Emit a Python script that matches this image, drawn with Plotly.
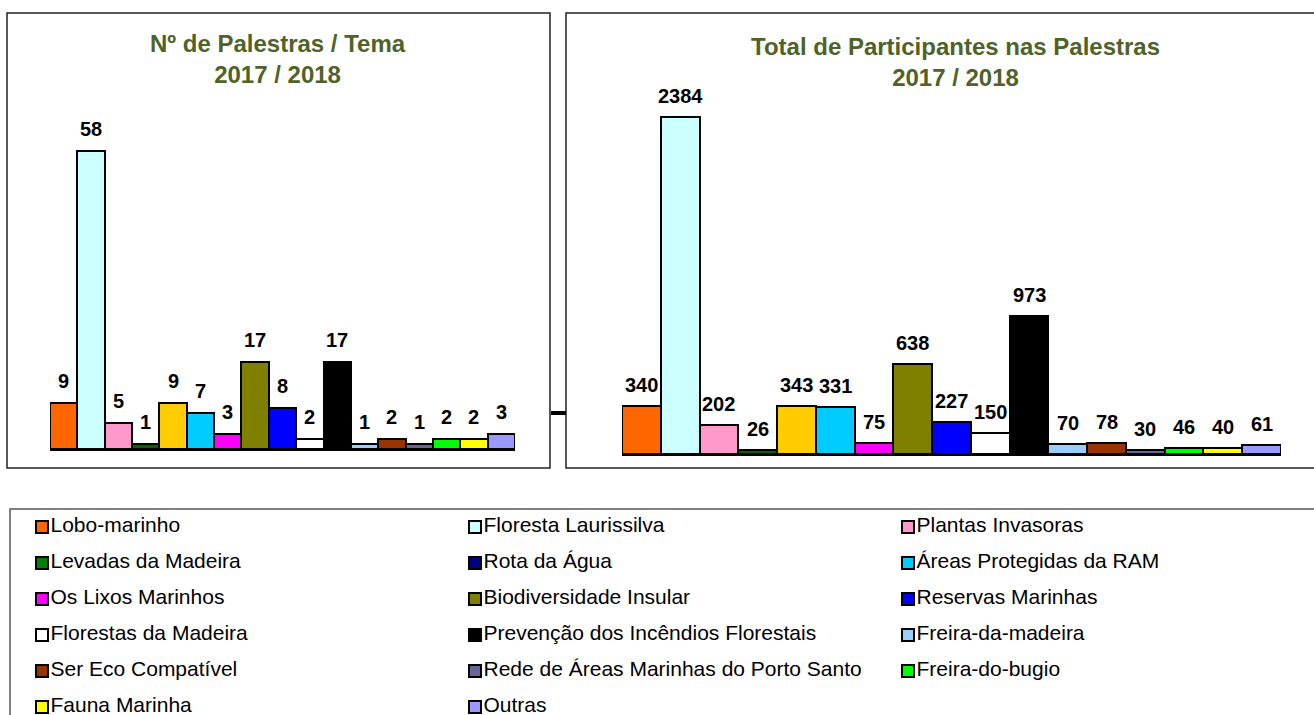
import plotly.graph_objects as go

# ---------------- data ----------------
categories = [
    "Lobo-marinho", "Floresta Laurissilva", "Plantas Invasoras", "Levadas da Madeira",
    "Rota da Água", "Áreas Protegidas da RAM", "Os Lixos Marinhos", "Biodiversidade Insular",
    "Reservas Marinhas", "Florestas da Madeira", "Prevenção dos Incêndios Florestais",
    "Freira-da-madeira", "Ser Eco Compatível", "Rede de Áreas Marinhas do Porto Santo",
    "Freira-do-bugio", "Fauna Marinha", "Outras",
]
palestras = [9, 58, 5, 1, 9, 7, 3, 17, 8, 2, 17, 1, 2, 1, 2, 2, 3]
participantes = [340, 2384, 202, 26, 343, 331, 75, 638, 227, 150, 973, 70, 78, 30, 46, 40, 61]
bar_colors = ["#FF6600", "#CCFFFF", "#FF99CC", "#006600", "#FFCC00", "#00CCFF", "#FF00FF",
              "#808000", "#0000FF", "#FFFFFF", "#000000", "#99CCFF", "#993300", "#666699",
              "#00FF00", "#FFFF00", "#9999FF"]
legend_colors = ["#FF6600", "#CCFFFF", "#FF99CC", "#008000", "#000080", "#00CCFF", "#FF00FF",
                 "#808000", "#0000FF", "#FFFFFF", "#000000", "#99CCFF", "#993300", "#666699",
                 "#00FF00", "#FFFF00", "#9999FF"]
title_left = "Nº de Palestras / Tema<br>2017 / 2018"
title_right = "Total de Participantes nas Palestras<br>2017 / 2018"

# ---------------- layout helpers ----------------
W, H = 1314, 715
FONT = "Arial, Liberation Sans, sans-serif"
TITLE_COLOR = "#4F6228"


def px_x(p):
    return p / W


def px_y(p):
    return 1 - p / H


fig = go.Figure()

# left chart bars
fig.add_trace(go.Bar(
    x=categories, y=palestras, xaxis="x", yaxis="y",
    marker=dict(color=bar_colors, line=dict(color="black", width=2)),
    showlegend=False, hoverinfo="x+y",
))
# right chart bars
fig.add_trace(go.Bar(
    x=categories, y=participantes, xaxis="x2", yaxis="y2",
    marker=dict(color=bar_colors, line=dict(color="black", width=2)),
    showlegend=False, hoverinfo="x+y",
))

# legend drawn as a scatter in its own axes (3 columns, row-major)
leg_col = [i % 3 for i in range(len(categories))]
leg_row = [i // 3 for i in range(len(categories))]
fig.add_trace(go.Scatter(
    x=leg_col, y=leg_row, xaxis="x3", yaxis="y3",
    mode="markers+text", text=categories, textposition="middle right",
    textfont=dict(family=FONT, size=21, color="black"),
    marker=dict(symbol="square", size=12, color=legend_colors,
                line=dict(color="black", width=2)),
    showlegend=False, hoverinfo="text", cliponaxis=False,
))

annotations = []
for c, v in zip(categories, palestras):
    annotations.append(dict(x=c, y=v, xref="x", yref="y", text=f"<b>{v}</b>",
                            showarrow=False, yshift=22,
                            font=dict(family=FONT, size=20, color="black")))
for c, v in zip(categories, participantes):
    annotations.append(dict(x=c, y=v, xref="x2", yref="y2", text=f"<b>{v}</b>",
                            showarrow=False, yshift=21,
                            font=dict(family=FONT, size=20, color="black")))
annotations.append(dict(x=px_x(278), y=px_y(59), xref="paper", yref="paper",
                        xanchor="center", yanchor="middle",
                        text=f"<b>{title_left}</b>", showarrow=False,
                        font=dict(family=FONT, size=24, color=TITLE_COLOR)))
annotations.append(dict(x=px_x(955), y=px_y(62), xref="paper", yref="paper",
                        xanchor="center", yanchor="middle",
                        text=f"<b>{title_right}</b>", showarrow=False,
                        font=dict(family=FONT, size=24, color=TITLE_COLOR)))

shapes = [
    dict(type="rect", xref="paper", yref="paper", x0=px_x(7), x1=px_x(550),
         y0=px_y(468), y1=px_y(13), line=dict(color="#222222", width=1.5)),
    dict(type="rect", xref="paper", yref="paper", x0=px_x(566), x1=px_x(1330),
         y0=px_y(468), y1=px_y(13), line=dict(color="#222222", width=1.5)),
    dict(type="line", xref="paper", yref="paper", x0=px_x(551), x1=px_x(566),
         y0=px_y(413), y1=px_y(413), line=dict(color="black", width=4)),
    dict(type="rect", xref="paper", yref="paper", x0=px_x(10), x1=px_x(1330),
         y0=px_y(730), y1=px_y(509), line=dict(color="#555555", width=1.5)),
]

left_scale = 5.13      # px per unit
right_scale = 0.14136  # px per unit
left_top, left_base = 60, 449
right_top, right_base = 60, 454

axis_common = dict(showgrid=False, zeroline=False, showticklabels=False, ticks="",
                   fixedrange=True)

leg_x0, leg_dx = 42, 433
leg_y0, leg_dy = 527, 36

fig.update_layout(
    width=W, height=H,
    margin=dict(l=0, r=0, t=0, b=0),
    paper_bgcolor="white", plot_bgcolor="rgba(0,0,0,0)",
    bargap=0,
    font=dict(family=FONT),
    xaxis=dict(domain=[px_x(50), px_x(515)], range=[-0.5, 16.5], anchor="y",
               showline=True, linecolor="black", linewidth=2, **axis_common),
    yaxis=dict(domain=[px_y(left_base), px_y(left_top)],
               range=[0, (left_base - left_top) / left_scale], anchor="x",
               visible=False, **axis_common),
    xaxis2=dict(domain=[px_x(622), px_x(1281)], range=[-0.5, 16.5], anchor="y2",
                showline=True, linecolor="black", linewidth=2, **axis_common),
    yaxis2=dict(domain=[px_y(right_base), px_y(right_top)],
                range=[0, (right_base - right_top) / right_scale], anchor="x2",
                visible=False, **axis_common),
    xaxis3=dict(domain=[0, 1], range=[-leg_x0 / leg_dx, (W - leg_x0) / leg_dx], anchor="y3",
                visible=False, **axis_common),
    yaxis3=dict(domain=[0, 1], range=[(H - leg_y0) / leg_dy, -leg_y0 / leg_dy], anchor="x3",
                visible=False, **axis_common),
    annotations=annotations,
    shapes=shapes,
)

fig.write_html("out.html", config={"displayModeBar": False},
               post_script="document.body.style.margin='0px';document.body.style.overflow='hidden';")
